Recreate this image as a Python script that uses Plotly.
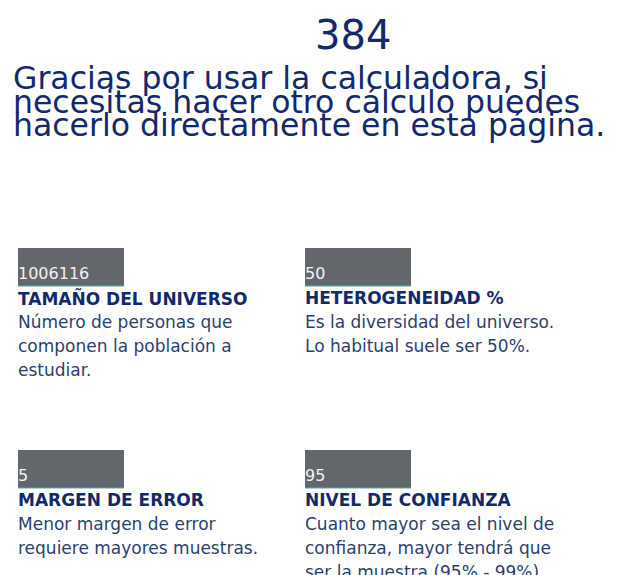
import plotly.graph_objects as go

result_value = "384"
heading_lines = [
    "Gracias por usar la calculadora, si",
    "necesitas hacer otro cálculo puedes",
    "hacerlo directamente en esta página.",
]
field_values = ["1006116", "50", "5", "95"]
field_titles = ["TAMAÑO DEL UNIVERSO", "HETEROGENEIDAD %", "MARGEN DE ERROR", "NIVEL DE CONFIANZA"]
field_descriptions = [
    ["Número de personas que", "componen la población a", "estudiar."],
    ["Es la diversidad del universo.", "Lo habitual suele ser 50%."],
    ["Menor margen de error", "requiere mayores muestras."],
    ["Cuanto mayor sea el nivel de", "confianza, mayor tendrá que", "ser la muestra (95% - 99%)."],
]

W, H = 644, 575
OFF = 8  # page body margin
NAVY = "#13296b"
TEXT = "#2b3f6f"
BOX = "#63676b"
FONT = "DejaVu Sans"

fig = go.Figure()
fig.add_trace(go.Scatter(x=[OFF, W], y=[OFF, H], mode="markers", marker=dict(opacity=0), hoverinfo="skip", showlegend=False))

ann = []
shapes = []
ann.append(dict(x=353, y=35, text=result_value, showarrow=False, xanchor="center", yanchor="middle",
                font=dict(family=FONT, size=40, color=NAVY)))
for i, line in enumerate(heading_lines):
    ann.append(dict(x=11, y=78 + i * 23.5, text=line, showarrow=False, xanchor="left", yanchor="middle",
                    font=dict(family=FONT, size=31.5, color=NAVY)))

col_x = [18, 305]
row_y = [248, 450]
for k in range(4):
    cx = col_x[k % 2]
    ry = row_y[k // 2]
    shapes.append(dict(type="rect", x0=cx, x1=cx + 106, y0=ry, y1=ry + 38, fillcolor=BOX, line=dict(width=0), layer="below"))
    shapes.append(dict(type="line", x0=cx, x1=cx + 106, y0=ry + 38, y1=ry + 38, line=dict(color="#5fa8a6", width=1)))
    ann.append(dict(x=cx - 2, y=ry + 25, text=field_values[k], showarrow=False, xanchor="left", yanchor="middle",
                    font=dict(family=FONT, size=16, color="#f2f2f2")))
    ann.append(dict(x=cx - 2, y=ry + 50, text=field_titles[k], showarrow=False, xanchor="left", yanchor="middle",
                    font=dict(family=FONT, size=17, color=NAVY, weight=800)))
    for j, d in enumerate(field_descriptions[k]):
        ann.append(dict(x=cx - 2, y=ry + 74 + j * 24, text=d, showarrow=False, xanchor="left", yanchor="middle",
                        font=dict(family=FONT, size=17, color=TEXT)))

fig.update_layout(
    width=W, height=H, margin=dict(l=0, r=0, t=0, b=0),
    paper_bgcolor="white", plot_bgcolor="white",
    xaxis=dict(range=[OFF, W + OFF], visible=False, fixedrange=True),
    yaxis=dict(range=[H + OFF, OFF], visible=False, fixedrange=True),
    annotations=ann, shapes=shapes,
)
fig.write_html("out.html")
